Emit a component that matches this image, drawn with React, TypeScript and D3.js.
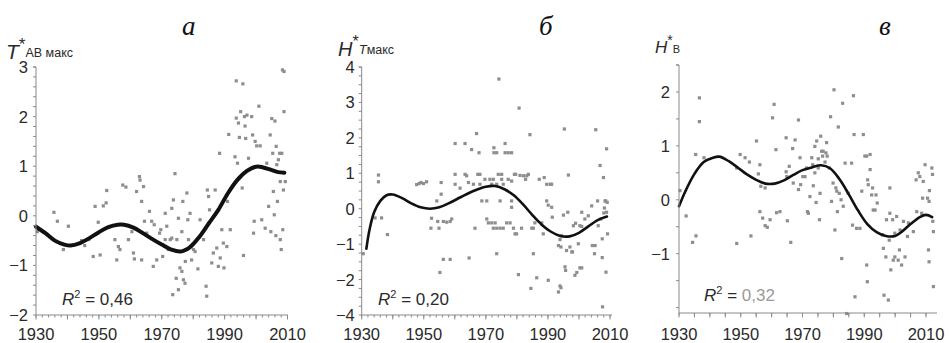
import React from 'react';
import * as d3 from 'd3';

const WIDTH = 949;
const HEIGHT = 343;

// ---- Panel а: T*_АВ макс ----
const pointsA: [number, number][] = [
  [1930.4,-0.32],[1935.7,0.07],[1936.8,-0.11],[1938.7,-0.68],[1940.3,-0.21],[1944.5,-0.5],[1945.5,-0.6],[1946.8,-0.48],
  [1948.2,-0.82],[1948.8,0.19],[1949.8,-0.13],[1950.4,-0.79],[1951.4,0.2],[1952.3,0.26],[1952.5,0.51],[1955.1,-0.48],
  [1955.7,-0.89],[1956.2,-0.62],[1956.7,-0.68],[1957.6,0.62],[1958.6,0.58],[1959.4,-0.48],[1960.5,-0.32],[1961,-0.75],
  [1961.3,-0.87],[1962,0.49],[1962.9,0.79],[1963.1,0.72],[1963.6,0.29],[1964.2,0.59],[1963.6,-0.89],[1964.5,-0.11],
  [1965.2,-0.35],[1966.1,0.09],[1966.8,-0.11],[1967.3,-1.02],[1967.6,-0.18],[1968.4,-0.89],[1969.3,-0.35],[1969.7,-0.28],
  [1970.3,-0.82],[1971.1,0.05],[1971.1,-0.48],[1971.6,-0.21],[1972.1,-0.68],[1972.7,-0.48],[1973.2,0.15],[1973.2,-0.45],
  [1973.5,-1.59],[1973.7,0.32],[1974.2,0.85],[1974.6,-1.26],[1974.8,-0.48],[1975.3,-0.05],[1975.3,-1.49],[1975.8,-1.05],
  [1976.4,-1.12],[1976.4,-0.32],[1976.7,0.29],[1976.9,-1.29],[1977.4,-1.36],[1977.5,-0.92],[1978,0.46],[1978.3,-0.08],
  [1978.5,-0.48],[1979,0.05],[1979.5,-0.89],[1980.1,-0.68],[1980.6,-0.72],[1981.5,-1.07],[1982.2,-0.08],[1983.3,-0.48],
  [1984.1,-1.42],[1984.3,-1.62],[1984.5,0.52],[1984.9,0.39],[1985.2,0.12],[1985.9,-0.95],[1986.4,-0.75],[1987,0.52],
  [1987.5,-0.65],[1988,-1.02],[1988.4,1.26],[1988.6,-0.85],[1989.1,-0.28],[1989.6,-0.55],[1989.8,-1.05],[1990.7,-0.62],
  [1990.9,0.29],[1991.3,1.64],[1991.8,-0.28],[1993.3,1.19],[1993.7,2.72],[1993.7,1.97],[1994.1,1.06],[1994.4,1.87],
  [1994.7,1.58],[1995.1,2.1],[1995.1,0.79],[1995.6,0.56],[1995.8,2.66],[1996,-0.8],[1996.3,2],[1996.5,1.81],
  [1996.7,1.56],[1997.1,2.03],[1997.6,1.16],[1998.6,2],[1998.9,1.63],[1999.2,-0.35],[1999.4,-0.11],[1999.7,1.5],
  [2000.2,1.41],[2000.9,2.21],[2001.3,1.41],[2001.8,-0.08],[2002.9,-0.25],[2003.4,1.06],[2004,0.19],[2004.5,1.63],
  [2004.7,-0.32],[2005,1.96],[2005.3,1.26],[2005.5,0.49],[2005.8,0.02],[2006,1.91],[2006.3,-0.4],[2006.4,1.4],
  [2006.6,1.03],[2006.8,0.29],[2007.1,1.13],[2007.5,1.26],[2007.7,0.69],[2007.7,-0.48],[2008,-0.68],[2008.2,1.26],
  [2008.4,2.94],[2008.9,2.91],[2008.5,-0.28],[2008.7,0.52],[2008.9,2.1],[2009.3,0.69],
];
const trendA: [number, number][] = [
  [1930,-0.22],[1933,-0.35],[1936,-0.5],[1939,-0.58],[1941,-0.6],[1944,-0.55],[1947,-0.45],[1950,-0.33],
  [1953,-0.23],[1956,-0.18],[1958,-0.18],[1961,-0.24],[1964,-0.35],[1967,-0.47],[1970,-0.58],[1973,-0.68],
  [1976,-0.72],[1979,-0.63],[1982,-0.42],[1985,-0.15],[1988,0.12],[1991,0.45],[1994,0.72],[1997,0.9],
  [2000,0.99],[2002,0.98],[2005,0.92],[2007,0.88],[2009,0.87],
];

// ---- Panel б: H*_Tмакс ----
const pointsB: [number, number][] = [
  [1930.5,-1.27],[1935.4,0.95],[1935.4,0.76],[1934.3,-0.26],[1936.4,-0.26],[1938.3,-0.73],
  [1947.7,0.68],[1948.5,0.71],[1949.1,0.74],[1949.9,0.71],[1950.9,0.76],
  [1952.5,-0.27],[1952.3,-0.55],[1954.2,0.22],[1955.2,-1.8],[1954.9,-0.55],[1955.6,0.74],[1955.6,0.41],
  [1954.5,-0.36],[1956.3,-0.36],[1957.4,-0.38],[1958.5,-0.36],[1959,-0.29],[1956.3,-1.43],[1958.5,-1.43],
  [1960.1,1.84],[1960.1,0.97],[1960.1,0.69],[1961.7,0.58],[1963.3,1.84],[1963.3,0.97],[1963.8,0.93],[1964.4,0.74],
  [1964.6,-1.39],[1965.4,1.67],[1966,0.69],[1966.5,-0.55],[1967,2.12],[1967.4,0.97],[1968.1,0.97],[1967.8,1.58],
  [1968.1,0.69],[1968.7,0.22],[1969.7,0.83],[1970.3,0.22],[1970.3,-0.29],[1970.8,-0.4],[1971.9,-0.4],[1973,-0.4],
  [1971.3,0.83],[1972.4,0.83],[1971.9,0.69],[1973.5,0.69],[1972.4,-0.55],[1973.5,-0.55],[1972.6,1.72],[1972.6,1.58],
  [1973.5,1.58],[1973.5,-1.27],[1974,0.97],[1975.1,0.97],[1974.2,3.66],[1974.6,0.22],[1974.6,-0.55],[1975.6,-0.55],
  [1975.1,0.83],[1975.6,0.69],[1976.2,1.58],[1977.2,1.58],[1978.3,1.58],[1976.2,1.84],[1976.7,-0.4],[1977.8,-0.4],
  [1977.2,0.83],[1978.3,0.78],[1978.3,0.22],[1978.3,0.04],[1978.9,-0.55],[1979.4,-0.71],[1979.9,-0.71],[1979.2,0.97],
  [1979.6,0.97],[1980.5,-1.86],[1980.7,2.84],[1981.5,-0.55],[1981,0.94],[1982.1,0.93],[1983.2,0.93],[1982.8,0.83],
  [1983.7,0.97],[1984.2,2.09],[1984.5,-2.25],[1984.8,-0.55],[1985.3,-0.55],[1985.3,-1.27],[1985.8,-0.4],[1986.4,-1.95],
  [1987.2,0.83],[1988,-0.4],[1988.5,-0.71],[1988.8,0.88],[1989.6,0.69],[1989.6,0.22],[1990.1,-2.02],[1990.1,0.1],
  [1990.7,0.69],[1991.2,0.69],[1991.2,0.04],[1991.4,-0.24],[1993.4,-2.35],[1993.9,-2.18],[1994.2,-2.23],[1993.4,-1.04],
  [1994.2,-1.08],[1993.9,-0.87],[1994.4,-0.76],[1995,-0.18],[1995.3,2.25],[1995.5,-1.64],[1995.7,-1.74],[1996,-1.18],
  [1996.4,-0.1],[1996.6,0.95],[1997.1,-1.08],[1997.7,-1.22],[1997.9,-1.22],[1998.2,-0.48],[1998.7,-1.88],[1999.3,-1.8],
  [1998.9,-0.41],[1999.8,-0.99],[2000.3,-1.67],[2000.9,-1.67],[2000.3,-0.48],[2000.9,-0.5],[2000.9,-0.1],[2001.9,-0.29],
  [2003,-0.2],[2004.1,0.08],[2004.3,-1.04],[2005.2,-1.04],[2005,-1.27],[2005.4,2.23],[2006,0.22],[2006.2,-0.48],
  [2006.8,1.22],[2007.1,-0.29],[2007.5,-0.85],[2007.5,-1.38],[2007.6,-2.77],[2007.9,0.88],[2008,-0.12],[2008.2,0.02],
  [2008.4,0.22],[2008.6,0.22],[2008.9,1.69],[2009.2,-0.71],[2008.7,-1.79],[2008.9,-0.1],[2009.1,0.18],
];
const trendB: [number, number][] = [
  [1931.5,-1.13],[1932.5,-0.6],[1934,-0.1],[1936,0.22],[1938,0.38],[1940,0.4],[1943,0.3],[1946,0.15],
  [1949,0.04],[1952,0],[1955,0.04],[1958,0.15],[1962,0.33],[1966,0.5],[1970,0.62],[1973,0.64],[1976,0.55],
  [1979,0.38],[1982,0.12],[1985,-0.18],[1988,-0.45],[1991,-0.65],[1994,-0.77],[1997,-0.78],[2000,-0.68],
  [2003,-0.5],[2006,-0.32],[2009,-0.22],
];

// ---- Panel в: H*_В ----
const pointsC: [number, number][] = [
  [1930.3,0.17],[1932.3,-0.3],[1934.4,-0.79],[1935.4,0.84],[1935.5,-0.67],[1936.6,1.89],[1936.6,1.45],[1938.1,0.78],
  [1948.7,-0.81],[1948.7,0.59],[1949.8,0.84],[1951.4,0.78],[1952.8,0.7],[1953.3,-0.67],[1955.1,1.09],[1955.7,0.48],
  [1956.2,0.65],[1956.2,-0.22],[1956.5,0.25],[1957.1,-0.34],[1957.9,0.22],[1957.9,-0.48],[1958.6,-0.51],[1959.5,-0.37],
  [1960.3,1.52],[1960.8,1.77],[1961.4,0.93],[1961.6,-0.24],[1962.7,-0.22],[1964.7,1.15],[1964.7,0.52],[1964.9,0.43],
  [1965.1,-0.39],[1965.7,0.62],[1966.2,-0.79],[1966.8,0.95],[1967,0.31],[1967.6,1.11],[1968.7,1.48],[1968.7,0.19],
  [1969.2,0.78],[1969.4,0.28],[1970.1,0.43],[1970.8,0.43],[1971.3,0.59],[1971.6,-0.22],[1971.9,-0.25],[1972.4,0.06],
  [1973,0.78],[1973.3,0.65],[1973.5,0.26],[1974,0.99],[1974,0.5],[1974.4,-0.05],[1974.6,1.09],[1975.1,0.59],
  [1975.1,0.76],[1975.5,-0.37],[1975.7,0.12],[1975.9,1.18],[1976.2,0.9],[1976.5,0.81],[1976.7,0.9],[1977.3,0.7],
  [1977.6,0.87],[1977.8,1.06],[1978,0.81],[1978.7,0.59],[1979.1,1.54],[1979.4,-0.03],[1979.9,0.31],[1980.2,2.04],
  [1980.5,-0.56],[1980.8,0.22],[1981.1,0.16],[1981.3,-0.22],[1981.6,1.35],[1981.9,0.12],[1982.5,0],[1982.7,-1.09],
  [1983,1.79],[1983.2,-0.12],[1983.8,0.68],[1984.3,-2.11],[1984.8,0.12],[1985.9,0.68],[1986.2,-0.47],[1986.5,1.93],
  [1986.7,1.21],[1987,-1.8],[1987.5,-0.53],[1988.6,-0.53],[1989.2,0.16],[1989.7,1.21],[1990.2,0.81],[1990.8,-1.21],
  [1990.8,0.81],[1991,-1.52],[1991.1,0.37],[1991.3,0.28],[1991.9,0.84],[1991.9,0.56],[1992.4,0.09],[1992.7,0.22],
  [1992.9,-0.19],[1993.5,-0.19],[1993.8,0.09],[1994.2,-0.06],[1995.9,-0.65],[1996.2,-0.9],[1996.4,-1.77],[1997,-1.06],
  [1997.2,-0.37],[1997.8,-1.86],[1998.1,-0.75],[1998.3,0.22],[1998.3,-0.25],[1998.6,-1.3],[1999.2,-0.37],[1999.4,-1.12],
  [1999.9,-1.06],[1999.9,-0.62],[2000.5,-0.31],[2001,-1.12],[2001.4,-0.93],[2001.6,-0.56],[2002.1,-1.21],[2002.7,-0.4],
  [2003.2,-1.06],[2004,-0.68],[2004.3,-0.43],[2005.9,-0.59],[2006.8,0.37],[2007,-0.22],[2007.5,0.5],[2008,0.43],
  [2008.6,-0.25],[2008.9,0.03],[2009.1,0.34],[2009.7,0.65],[2010.5,0.03],[2011,-0.03],[2010.8,-0.93],[2011,-1.15],
  [2011.1,0.17],[2011.9,0.59],[2012.1,0.47],[2012.2,-0.4],[2012.4,-1.61],[2012.4,-0.59],
];
const trendC: [number, number][] = [
  [1930,-0.12],[1932,0.15],[1935,0.48],[1938,0.7],[1941,0.78],[1943,0.8],[1946,0.72],[1949,0.6],
  [1952,0.47],[1955,0.37],[1958,0.3],[1961,0.3],[1964,0.36],[1967,0.46],[1970,0.55],[1973,0.6],
  [1976,0.64],[1979,0.58],[1982,0.38],[1985,0.1],[1988,-0.2],[1991,-0.45],[1994,-0.6],[1997,-0.67],
  [2000,-0.67],[2002,-0.6],[2005,-0.45],[2008,-0.32],[2010,-0.28],[2012,-0.32],
];

// ---- Axis ticks and labels ----
const yearLabels = [1930, 1950, 1970, 1990, 2010];
const yLabelsA = [3, 2, 1, 0, -1, -2];
const yLabelsB = [4, 3, 2, 1, 0, -1, -2, -3];
const yLabelTextB = ['4', '3', '2', '1', '0', '−1', '−2', '−4'];
const yLabelsC = [2, 1, 0, -1];
const r2Text = ['0,46', '0,20', '0,32'];
const panelLetters = ['а', 'б', 'в'];

const SANS = '"Liberation Sans", Arial, Helvetica, sans-serif';
const SERIF = '"Liberation Serif", "Times New Roman", serif';
const AXIS = '#8a8a8a';
const TEXT = '#2a2a2a';
const DOT = '#8e8e8e';

type PanelCfg = {
  x0: number; x1: number; xEnd: number;
  yDomain: [number, number]; yBottom: number; yTop: number;
  yLabelValues: number[]; yLabelText: string[];
  yMinorStep: number; xMinorStep: number; xMajorStep: number;
  points: [number, number][]; trend: [number, number][];
  lineWidth: number;
  r2: string; r2x: number; r2y: number; r2ValueColor: string;
  letter: string; letterX: number;
  labelGap: number;
  title: React.ReactNode;
};

function Panel({ cfg }: { cfg: PanelCfg }) {
  const x = d3.scaleLinear().domain([1930, 2010]).range([cfg.x0, cfg.x1]);
  const y = d3.scaleLinear().domain(cfg.yDomain).range([cfg.yBottom, cfg.yTop]);
  const xMax = x.invert(cfg.xEnd);

  const xMinor = d3.range(1930, xMax + 0.001, cfg.xMinorStep);
  const xMajor = d3.range(1930, xMax + 0.001, cfg.xMajorStep);
  const yMinor = d3.range(
    Math.ceil(cfg.yDomain[0] / cfg.yMinorStep) * cfg.yMinorStep,
    cfg.yDomain[1] + 0.0001,
    cfg.yMinorStep,
  );

  const line = d3
    .line<[number, number]>()
    .x((d) => x(d[0]))
    .y((d) => y(d[1]))
    .curve(d3.curveCatmullRom.alpha(0.5));

  const axisY = y(cfg.yDomain[0]);

  return (
    <g>
      {/* scatter */}
      {cfg.points.map((p, i) => (
        <rect key={i} x={x(p[0]) - 1.6} y={y(p[1]) - 1.6} width={3.2} height={3.2} fill={DOT} />
      ))}
      {/* trend curve */}
      <path d={line(cfg.trend) || ''} fill="none" stroke="#111" strokeWidth={cfg.lineWidth}
        strokeLinejoin="round" strokeLinecap="round" />

      {/* y axis */}
      <line x1={cfg.x0} x2={cfg.x0} y1={cfg.yTop} y2={axisY} stroke={AXIS} strokeWidth={1} />
      {yMinor.map((v, i) => (
        <line key={i} x1={cfg.x0 - 3} x2={cfg.x0} y1={y(v)} y2={y(v)} stroke={AXIS} strokeWidth={1} />
      ))}
      <line x1={cfg.x0 - 3} x2={cfg.x0} y1={cfg.yTop} y2={cfg.yTop} stroke={AXIS} strokeWidth={1} />
      {cfg.yLabelValues.map((v, i) => (
        <text key={i} x={cfg.x0 - cfg.labelGap} y={y(v)} dy="0.36em" textAnchor="end"
          fontFamily={SANS} fontSize={16.5} fill={TEXT}>
          {cfg.yLabelText[i]}
        </text>
      ))}

      {/* x axis */}
      <line x1={cfg.x0} x2={cfg.xEnd} y1={axisY} y2={axisY} stroke={AXIS} strokeWidth={1} />
      {xMinor.map((v, i) => (
        <line key={'n' + i} x1={x(v)} x2={x(v)} y1={axisY} y2={axisY + 2.5} stroke={AXIS} strokeWidth={1} />
      ))}
      {xMajor.map((v, i) => (
        <line key={'m' + i} x1={x(v)} x2={x(v)} y1={axisY} y2={axisY + 4.5} stroke={AXIS} strokeWidth={1} />
      ))}
      {yearLabels.map((v) => (
        <text key={v} x={x(v)} y={340} textAnchor="middle" fontFamily={SANS} fontSize={16.5} fill={TEXT}>
          {v}
        </text>
      ))}

      {/* R² */}
      <text x={cfg.r2x} y={cfg.r2y} fontFamily={SANS} fontSize={17} fill={TEXT}>
        <tspan fontStyle="italic">R</tspan>
        <tspan fontSize={11} dy={-7}>2</tspan>
        <tspan dy={7}> = </tspan>
        <tspan fill={cfg.r2ValueColor}>{cfg.r2}</tspan>
      </text>

      {/* panel letter */}
      <text x={cfg.letterX} y={35} fontFamily={SERIF} fontStyle="italic" fontSize={27} fill="#111">
        {cfg.letter}
      </text>

      {cfg.title}
    </g>
  );
}

export default function App() {
  const panels: PanelCfg[] = [
    {
      x0: 36, x1: 287.5, xEnd: 288,
      yDomain: [-2, 3], yBottom: 315, yTop: 67,
      yLabelValues: yLabelsA, yLabelText: yLabelsA.map((v) => (v < 0 ? '−' + Math.abs(v) : String(v))),
      yMinorStep: 0.2, xMinorStep: 2, xMajorStep: 10,
      points: pointsA, trend: trendA, lineWidth: 4,
      r2: r2Text[0], r2x: 62, r2y: 305, r2ValueColor: TEXT,
      letter: panelLetters[0], letterX: 182, labelGap: 8,
      title: (
        <text x={6} y={59} fontFamily={SANS} fill={TEXT}>
          <tspan fontStyle="italic" fontSize={21}>T</tspan>
          <tspan fontSize={17} dy={-9}>*</tspan>
          <tspan fontSize={12.5} dy={7}>АВ макс</tspan>
        </text>
      ),
    },
    {
      x0: 361.7, x1: 610, xEnd: 612,
      yDomain: [-3, 4], yBottom: 315, yTop: 67,
      yLabelValues: yLabelsB, yLabelText: yLabelTextB,
      yMinorStep: 0.25, xMinorStep: 2, xMajorStep: 10,
      points: pointsB, trend: trendB, lineWidth: 2.6,
      r2: r2Text[1], r2x: 378, r2y: 305, r2ValueColor: TEXT,
      letter: panelLetters[1], letterX: 539, labelGap: 7,
      title: (
        <text x={338} y={56} fontFamily={SANS} fill={TEXT}>
          <tspan fontStyle="italic" fontSize={20}>H</tspan>
          <tspan fontSize={16} dy={-9}>*</tspan>
          <tspan fontStyle="italic" fontSize={13} dy={7}>T</tspan>
          <tspan fontSize={12.5}>макс</tspan>
        </text>
      ),
    },
    {
      x0: 679, x1: 926, xEnd: 937,
      yDomain: [-2.1, 2.5], yBottom: 313, yTop: 65,
      yLabelValues: yLabelsC, yLabelText: yLabelsC.map((v) => (v < 0 ? '−' + Math.abs(v) : String(v))),
      yMinorStep: 0.5, xMinorStep: 5, xMajorStep: 5,
      points: pointsC, trend: trendC, lineWidth: 2.6,
      r2: r2Text[2], r2x: 704, r2y: 301, r2ValueColor: '#9a9a9a',
      letter: panelLetters[2], letterX: 879, labelGap: 9,
      title: (
        <text x={655} y={53} fontFamily={SANS} fill={TEXT}>
          <tspan fontStyle="italic" fontSize={17}>H</tspan>
          <tspan fontSize={14} dy={-8}>*</tspan>
          <tspan fontSize={11} dy={8}>В</tspan>
        </text>
      ),
    },
  ];

  return (
    <svg width={WIDTH} height={HEIGHT} viewBox={`0 0 ${WIDTH} ${HEIGHT}`}
      style={{ position: 'absolute', left: 0, top: 0, background: '#fff', display: 'block' }}>
      <rect width={WIDTH} height={HEIGHT} fill="#fff" />
      {panels.map((p, i) => (
        <Panel key={i} cfg={p} />
      ))}
    </svg>
  );
}
